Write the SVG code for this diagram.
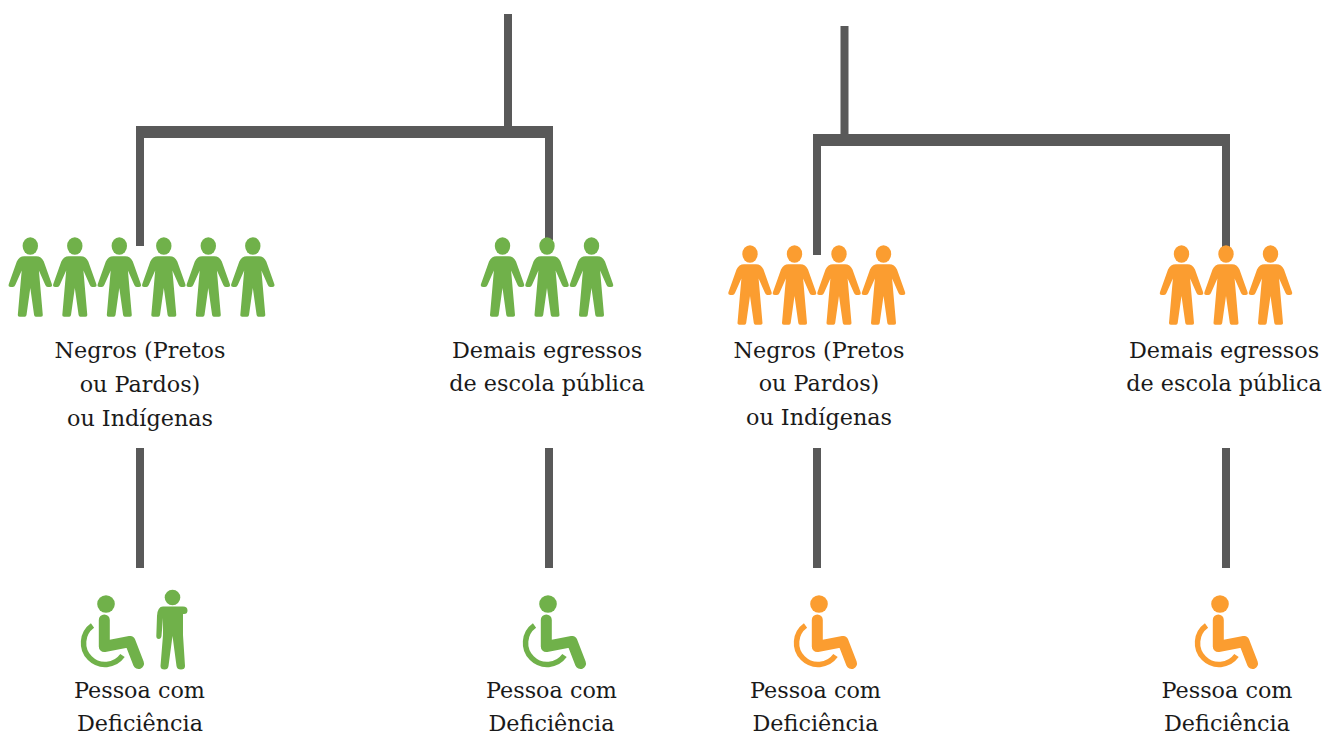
<svg xmlns="http://www.w3.org/2000/svg" xmlns:xlink="http://www.w3.org/1999/xlink" width="1324" height="735" viewBox="0 0 1324 735">
<style>
.c{fill:#595959}
.g{fill:#70b14a;color:#70b14a}
.o{fill:#fb9d30;color:#fb9d30}
text{font-family:"DejaVu Serif","Liberation Serif",serif;font-size:22.3px;fill:#1a1a1a;text-anchor:middle}
</style>
<defs>
<g id="person">
<ellipse cx="0" cy="0" rx="7.700" ry="8.800"/>
<path d="M-6,10.300H6Q11,10.300 13.500,15.500L21.500,38Q22.500,41 19.500,41H17.500Q15.800,41 15,39L8.600,24.500L12.500,69Q12.700,70.800 10.700,70.800H5.500Q4.100,70.800 3.800,69L0,42L-3.800,69Q-4.100,70.800 -5.500,70.800H-10.700Q-12.700,70.800 -12.500,69L-8.600,24.500L-15,39Q-15.800,41 -17.500,41H-19.500Q-22.500,41 -21.500,38L-13.500,15.500Q-11,10.300 -6,10.300Z"/>
</g>
<g id="wheel">
<circle cx="0" cy="0" r="8.800"/>
<path d="M-1.700,16V42.500L24,37.500L32.500,59.500" fill="none" stroke="currentColor" stroke-width="11" stroke-linecap="round" stroke-linejoin="round"/>
<path d="M-13.500,21.500A21.500,21.500 0 1 0 16.500,51.500" fill="none" stroke="currentColor" stroke-width="5.500"/>
</g>
</defs>
<g id="connectors">
<rect class="c" x="504" y="14" width="8" height="116"/>
<rect class="c" x="136" y="126" width="417" height="12"/>
<rect class="c" x="136" y="132" width="8" height="114"/>
<rect class="c" x="545" y="132" width="8" height="108"/>
<rect class="c" x="840.500" y="26" width="8" height="120"/>
<rect class="c" x="813" y="134" width="417" height="12"/>
<rect class="c" x="813" y="140" width="8" height="115"/>
<rect class="c" x="1222" y="140" width="8" height="108"/>
<rect class="c" x="136" y="448" width="8" height="120"/>
<rect class="c" x="545" y="448" width="8" height="120"/>
<rect class="c" x="813" y="448" width="8" height="120"/>
<rect class="c" x="1222" y="448" width="8" height="120"/>
</g>
<g id="node-negros-green">
<g class="g">
<use xlink:href="#person" x="30.300" y="246"/><use xlink:href="#person" x="74.800" y="246"/><use xlink:href="#person" x="119.300" y="246"/><use xlink:href="#person" x="163.800" y="246"/><use xlink:href="#person" x="208.300" y="246"/><use xlink:href="#person" x="252.800" y="246"/>
</g>
<text x="140" y="358">Negros (Pretos</text><text x="140" y="392">ou Pardos)</text><text x="140" y="426">ou Indígenas</text>
</g>
<g id="node-demais-green">
<g class="g">
<use xlink:href="#person" x="502.500" y="246"/><use xlink:href="#person" x="547" y="246"/><use xlink:href="#person" x="591.500" y="246"/>
</g>
<text x="547" y="358">Demais egressos</text><text x="547" y="391">de escola pública</text>
</g>
<g id="node-negros-orange">
<g class="o">
<use xlink:href="#person" x="750" y="254"/><use xlink:href="#person" x="794.500" y="254"/><use xlink:href="#person" x="839" y="254"/><use xlink:href="#person" x="883.500" y="254"/>
</g>
<text x="819" y="358">Negros (Pretos</text><text x="819" y="391">ou Pardos)</text><text x="819" y="425">ou Indígenas</text>
</g>
<g id="node-demais-orange">
<g class="o">
<use xlink:href="#person" x="1181.500" y="254"/><use xlink:href="#person" x="1226" y="254"/><use xlink:href="#person" x="1270.500" y="254"/>
</g>
<text x="1224" y="358">Demais egressos</text><text x="1224" y="391">de escola pública</text>
</g>
<g id="node-pcd-1">
<g class="g">
<use xlink:href="#wheel" x="106" y="604"/>
<circle cx="172.500" cy="597.500" r="7.800"/>
<path d="M163,606.500H183Q187.500,606.500 187.500,610.500Q187.500,614 184,614H183V635L185,666Q185,669.500 181,669.500Q177,669.500 176.500,666L172.500,636L168.500,666Q168,669.500 164.500,669.500Q160.500,669.500 160.500,666L163,635V618L161.500,636Q161,639 158.800,639Q156.300,639 156.300,636L157,616Q157.500,606.500 163,606.500Z"/>
</g>
<text x="139.500" y="698">Pessoa com</text><text x="140" y="731">Deficiência</text>
</g>
<g id="node-pcd-2">
<g class="g"><use xlink:href="#wheel" x="548" y="604"/></g>
<text x="551.500" y="698">Pessoa com</text><text x="551.500" y="731">Deficiência</text>
</g>
<g id="node-pcd-3">
<g class="o"><use xlink:href="#wheel" x="819" y="604"/></g>
<text x="815.500" y="698">Pessoa com</text><text x="815.500" y="731">Deficiência</text>
</g>
<g id="node-pcd-4">
<g class="o"><use xlink:href="#wheel" x="1220" y="604"/></g>
<text x="1227" y="698">Pessoa com</text><text x="1227" y="731">Deficiência</text>
</g>
</svg>
